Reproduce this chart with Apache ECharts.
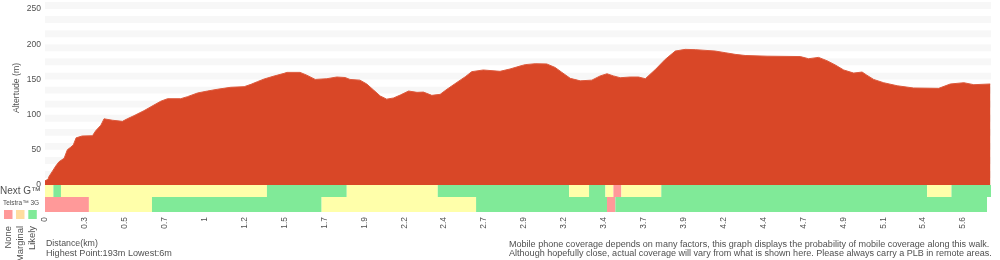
<!DOCTYPE html>
<html>
<head>
<meta charset="utf-8">
<script src="https://cdn.jsdelivr.net/npm/echarts@6/dist/echarts.min.js"></script>
<style>html,body{margin:0;padding:0;background:#fff}#c{width:1000px;height:260px}</style>
</head>
<body>
<div id="c"></div>
<script>
// x values are sample indices along the walk; tick labels every 10 samples (km)
const tickLabels = ['0','0.3','0.5','0.7','1','1.2','1.5','1.7','1.9','2.2','2.4','2.7','2.9','3.2','3.4','3.7','3.9','4.2','4.4','4.7','4.9','5.1','5.4','5.6'];
const sampleCount = 237;
const yTickLabels = [0, 50, 100, 150, 200, 250];

// elevation profile [sampleIndex, altitude m]
const elevation = [
  [0,6],[0.75,8],[1.0,12],[1.8,19],[2.7,27],[3.5,33],[4.8,38],[5.6,50],[6.4,53.5],[7.1,57],
  [7.8,67],[9.3,69.6],[11.9,70],[12.7,77],[14.0,85],[14.8,94],[16.9,92],[19.4,90.4],[20.6,94],
  [22.3,98.5],[24.8,105.6],[27.3,113.6],[29.0,119],[30.7,122.6],[34.0,122.6],[35.7,125.5],
  [38.2,130.7],[40.7,133.5],[43.2,136],[46.5,138.8],[49.9,139.7],[51.6,143],[53.2,146.8],
  [54.9,150.6],[57.4,154.8],[59.9,158.6],[60.6,160],[63.9,160],[65.6,156],[67.7,150],
  [70.6,151],[73.1,153.4],[75.2,152.7],[76.4,150],[78.9,149],[80.6,143.5],[82.3,135],
  [84.0,126.4],[85.6,122],[87.3,123.6],[89.0,127.8],[91.1,133.5],[93.2,131.6],[94.8,132],
  [96.9,127.4],[99.0,128.8],[100.7,136],[103.2,145.8],[105.3,153.8],[106.9,161],[109.8,163.4],
  [114.0,161.5],[116.5,164.8],[119.0,169],[120.3,171],[122.8,172.3],[125.7,172],[127.8,167],
  [129.5,160],[131.6,151.5],[134.1,148],[137.0,149],[139.1,155],[140.8,158],[142.4,155],
  [144.1,152.4],[146.6,153.4],[148.7,153.4],[150.4,151],[152.9,164],[155.4,178.5],[157.9,190.3],
  [160.4,192.7],[162.9,192.3],[167.9,190.3],[170.4,188],[172.9,185.6],[175.4,184],[180.9,183],
  [189.2,182.5],[191.3,179.4],[193.8,181.3],[195.9,176.6],[198.0,170.5],[200.1,163.4],
  [202.6,159],[204.7,160.5],[205.9,156],[207.6,150],[210.1,145.3],[213.5,141],[217.6,137.8],
  [223.9,137.3],[226.8,143.5],[230.2,145.3],[232.7,142.5],[236.8,143.5]
];

// coverage segments [startIndex, endIndex, level]  level: 0 none, 1 marginal, 2 likely
const nextGCoverage = [
  [0,2.1,1],[2.1,4.0,2],[4.0,55.6,1],[55.6,75.6,2],[75.6,98.4,1],[98.4,131.3,2],[131.3,136.3,1],
  [136.3,140.4,2],[140.4,142.4,1],[142.4,144.4,0],[144.4,154.4,1],[154.4,221.0,2],[221.0,227.1,1],
  [227.1,237,2]
];
const telstra3GCoverage = [
  [0,11.0,0],[11.0,26.8,1],[26.8,69.3,2],[69.3,108.0,1],[108.0,140.8,2],[140.8,142.9,0],[142.9,236.0,2]
];
const levelNames = ['None','Marginal','Likely'];

const FONT = '"Liberation Sans", Arial, Helvetica, sans-serif';
const TXT = '#505050';
const barColors = ['#ff9999', '#ffffaa', '#80ea98'];
const legendColors = ['#ff9999', '#ffdd9f', '#80ea98'];

const hi = Math.round(Math.max(...elevation.map(d => d[1])));
const lo = Math.round(Math.min(...elevation.map(d => d[1])));

function coverageItem(params, api) {
  const s = api.coord([api.value(0), 1]);
  const e = api.coord([api.value(1), 0]);
  return { type: 'rect', shape: { x: s[0], y: s[1], width: e[0] - s[0], height: e[1] - s[1] },
           style: { fill: barColors[api.value(2)] } };
}

const chart = echarts.init(document.getElementById('c'), null, { renderer: 'canvas' });
const xBase = { type: 'value', min: 0, max: sampleCount, interval: 10,
  axisLine: { show: false }, axisTick: { show: false }, splitLine: { show: false } };

const graphic = [
  { type: 'text', x: 17, y: 88, rotation: Math.PI / 2,
    style: { text: 'Altertude (m)', font: '8.7px ' + FONT, fill: TXT, align: 'center', verticalAlign: 'middle' } },
  { type: 'text', x: 0, y: 191.5,
    style: { text: 'Next G™', font: '10px ' + FONT, fill: TXT, align: 'left', verticalAlign: 'middle' } },
  { type: 'text', x: 3, y: 203.5,
    style: { text: 'Telstra™ 3G', font: '6.5px ' + FONT, fill: TXT, align: 'left', verticalAlign: 'middle' } },
  { type: 'text', x: 46, y: 244,
    style: { text: 'Distance(km)', font: '8.8px ' + FONT, fill: TXT, align: 'left', verticalAlign: 'middle' } },
  { type: 'text', x: 46, y: 253,
    style: { text: 'Highest Point:' + hi + 'm Lowest:' + lo + 'm', font: '9.1px ' + FONT, fill: TXT, align: 'left', verticalAlign: 'middle' } },
  { type: 'text', x: 509, y: 245,
    style: { text: 'Mobile phone coverage depends on many factors, this graph displays the probability of mobile coverage along this walk.', font: '9.05px ' + FONT, fill: TXT, align: 'left', verticalAlign: 'middle' } },
  { type: 'text', x: 509, y: 254,
    style: { text: 'Although hopefully close, actual coverage will vary from what is shown here. Please always carry a PLB in remote areas.', font: '9.05px ' + FONT, fill: TXT, align: 'left', verticalAlign: 'middle' } }
];
const legendX = [4, 16, 28.3];
const labelX = [8.3, 20, 32];
levelNames.forEach((n, i) => {
  graphic.push({ type: 'rect', shape: { x: legendX[i], y: 210, width: 8.5, height: 9 }, style: { fill: legendColors[i] } });
  graphic.push({ type: 'text', x: labelX[i], y: 226, rotation: Math.PI / 2,
    style: { text: n, font: '9.4px ' + FONT, fill: TXT, align: 'right', verticalAlign: 'middle' } });
});

chart.setOption({
  animation: false,
  backgroundColor: '#fff',
  grid: [
    { left: 45, right: 9, top: 2, height: 183 },
    { left: 45, right: 9, top: 185, height: 12 },
    { left: 45, right: 9, top: 197, height: 15 }
  ],
  xAxis: [
    Object.assign({}, xBase, { gridIndex: 0, axisLabel: { show: false } }),
    Object.assign({}, xBase, { gridIndex: 1, axisLabel: { show: false } }),
    Object.assign({}, xBase, { gridIndex: 2,
      axisLabel: { show: true, rotate: 90, margin: 5, fontSize: 8.4, fontFamily: FONT, color: TXT,
        formatter: v => (v % 10 === 0 && tickLabels[v / 10] !== undefined) ? tickLabels[v / 10] : '' } })
  ],
  yAxis: [
    { type: 'value', gridIndex: 0, min: 0, max: 260, interval: 10,
      axisLine: { show: false }, axisTick: { show: false }, splitLine: { show: false },
      splitArea: { show: true, areaStyle: { color: ['#ffffff', '#f7f7f7'] } },
      axisLabel: { margin: 4, fontSize: 8.5, fontFamily: FONT, color: TXT,
        formatter: v => yTickLabels.includes(v) ? String(v) : '' } },
    { type: 'value', gridIndex: 1, min: 0, max: 1, show: false },
    { type: 'value', gridIndex: 2, min: 0, max: 1, show: false }
  ],
  series: [
    { type: 'line', xAxisIndex: 0, yAxisIndex: 0, data: elevation, showSymbol: false, smooth: false,
      lineStyle: { width: 1, color: '#dd5a3d' }, areaStyle: { color: '#d94727', opacity: 1 } },
    { type: 'custom', xAxisIndex: 1, yAxisIndex: 1, data: nextGCoverage, renderItem: coverageItem,
      encode: { x: [0, 1] } },
    { type: 'custom', xAxisIndex: 2, yAxisIndex: 2, data: telstra3GCoverage, renderItem: coverageItem,
      encode: { x: [0, 1] } }
  ],
  graphic: graphic
});
</script>
</body>
</html>
